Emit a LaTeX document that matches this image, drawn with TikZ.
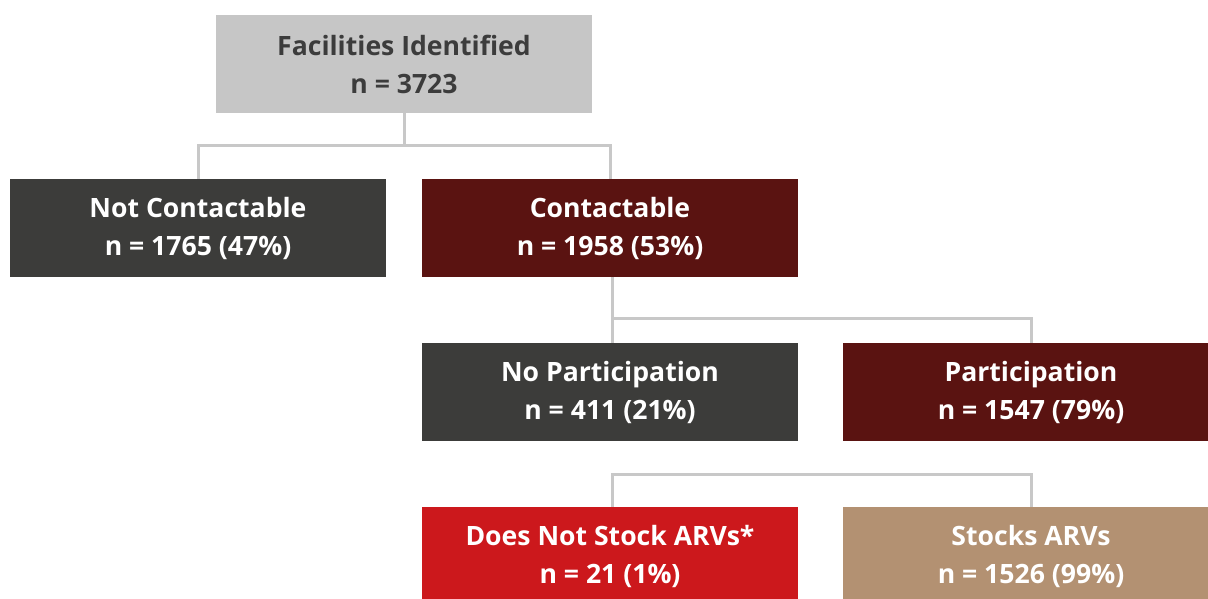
\documentclass[tikz,border=0pt]{standalone}
\usepackage{fontspec}
\setmainfont{Open Sans}
\definecolor{topgray}{HTML}{C6C6C6}
\definecolor{toptext}{HTML}{3C3C3C}
\definecolor{darkgray}{HTML}{3C3C3A}
\definecolor{darkred}{HTML}{5A1311}
\definecolor{brightred}{HTML}{CC181C}
\definecolor{tan}{HTML}{B39172}
\definecolor{linegray}{HTML}{C8C8C8}
\tikzset{
  box/.style={minimum width=376pt, minimum height=98pt, inner sep=0pt, align=center,
    font=\fontsize{26.6}{38}\selectfont\bfseries, text=white},
  link/.style={draw=linegray, line width=3pt}
}
\begin{document}
\begin{tikzpicture}[x=1pt,y=-1pt]
\useasboundingbox (0,0) rectangle (1208,599);
\clip (0,0) rectangle (1208,599);
\node[box, fill=topgray, text=toptext] (top) at (404,64) {Facilities Identified\\n = 3723};
\node[box, fill=darkgray] (nc) at (198,228) {Not Contactable\\n = 1765 (47\%)};
\node[box, fill=darkred] (c) at (610,228) {Contactable\\n = 1958 (53\%)};
\node[box, fill=darkgray] (np) at (610,392) {No Participation\\n = 411 (21\%)};
\node[box, fill=darkred] (p) at (1031,392) {Participation\\n = 1547 (79\%)};
\node[box, fill=brightred] (dns) at (610,556) {Does Not Stock ARVs*\\n = 21 (1\%)};
\node[box, fill=tan] (s) at (1031,556) {Stocks ARVs\\n = 1526 (99\%)};
\coordinate (j1) at (404,146);
\coordinate (j2) at (612,318);
\coordinate (j3) at (612,474);
\draw[link] (top.south) -- (j1);
\draw[link] (nc.north) |- (j1) -| (c.north);
\draw[link] (c.south -| j2) -- (j2);
\draw[link] (np.north -| j2) |- (j2) -| (p.north);
\draw[link] (dns.north -| j3) |- (j3) -| (s.north);
\end{tikzpicture}
\end{document}
